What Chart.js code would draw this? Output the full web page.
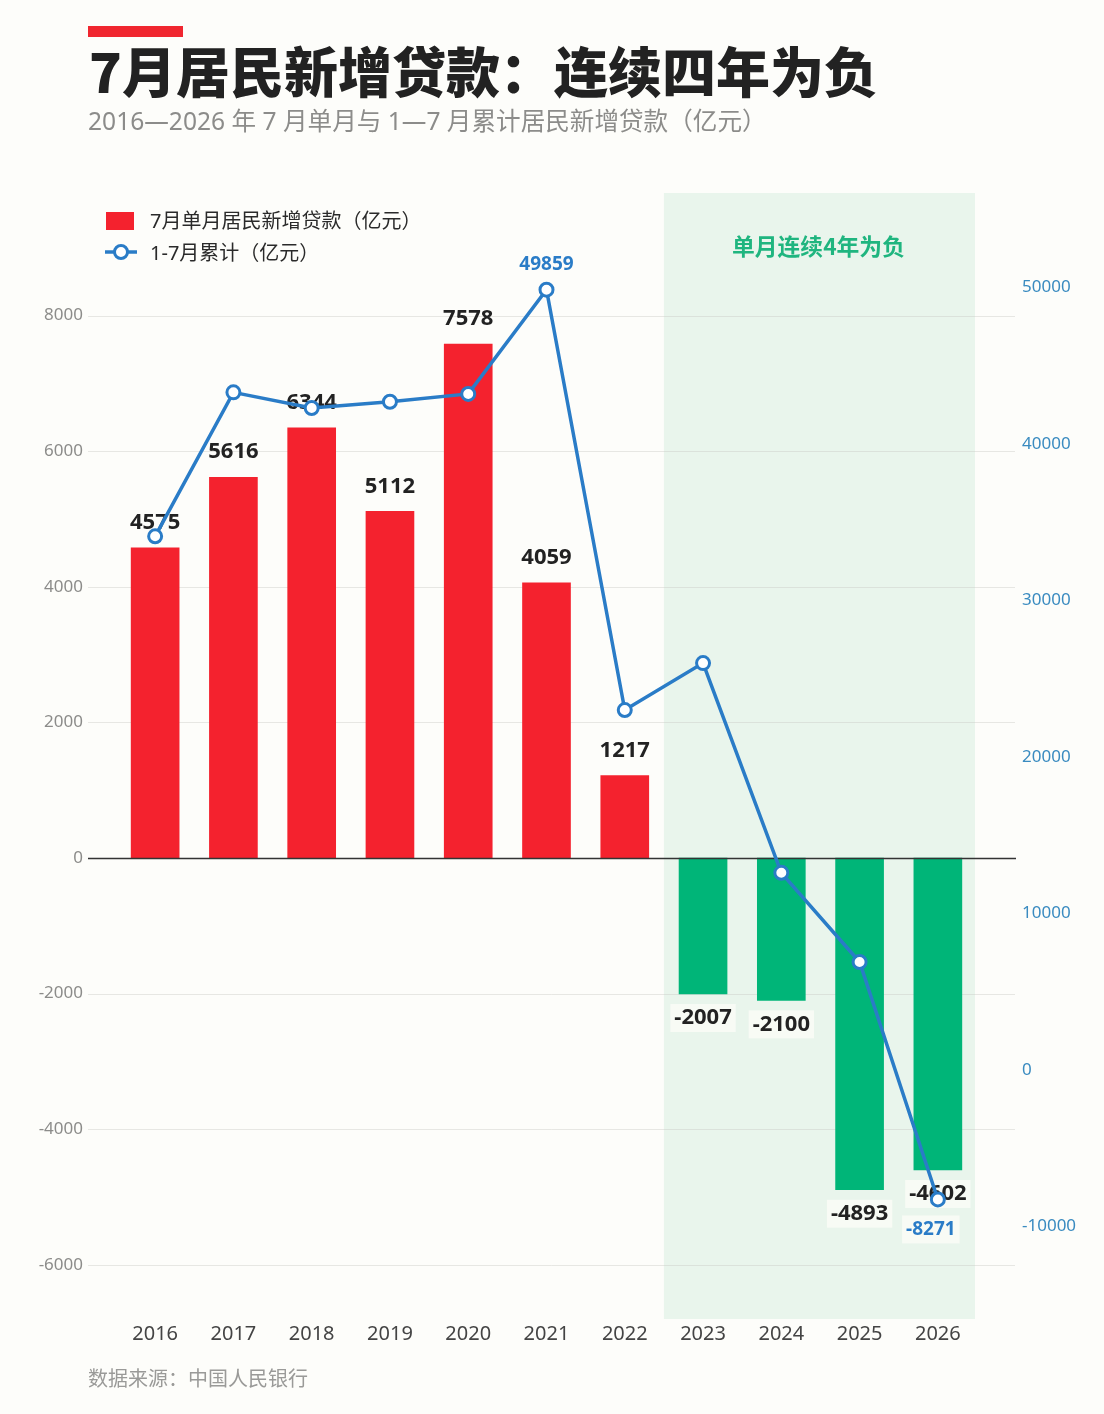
<!DOCTYPE html>
<html lang="zh">
<head>
<meta charset="utf-8">
<title>7月居民新增贷款</title>
<script src="https://cdn.jsdelivr.net/npm/chart.js@4"></script>
<style>
  html, body { margin: 0; padding: 0; background: #fdfdfa; }
  body { width: 1104px; height: 1414px; position: relative; overflow: hidden; font-family: "Noto Sans", "Noto Sans CJK SC", sans-serif; }
  canvas { position: absolute; left: 0; top: 0; }
  .abs { position: absolute; white-space: nowrap; z-index: 2; }
  #accent { left: 88px; top: 26px; width: 95px; height: 11px; background: #f0262f; }
  #title { left: 89px; top: 32px; font-family: "Noto Sans CJK SC", sans-serif; font-size: 54px; line-height: 76px; font-weight: 900; color: #222; }
  #subtitle { left: 88px; top: 103px; font-size: 24.6px; line-height: 36px; color: #8c8c8a; }
  #source { left: 88px; top: 1364px; font-size: 20px; line-height: 30px; color: #9a9a98; }
  .legend-label { left: 150px; font-size: 20px; line-height: 28px; color: #2a2a2a; }
</style>
</head>
<body>
<div id="accent" class="abs"></div>
<div id="title" class="abs">7月居民新增贷款：连续四年为负</div>
<div id="subtitle" class="abs">2016—2026 年 7 月单月与 1—7 月累计居民新增贷款（亿元）</div>

<div class="abs" style="left:106px;top:212px;width:28px;height:18px;background:#f4222e"></div>
<div id="legendBar" class="abs legend-label" style="top:207px"></div>
<svg class="abs" style="left:104px;top:242px" width="34" height="20">
  <line x1="1" y1="10" x2="33" y2="10" stroke="#2a7cc7" stroke-width="3.5"/>
  <circle cx="17" cy="10" r="6.5" fill="#fff" stroke="#2a7cc7" stroke-width="3"/>
</svg>
<div id="legendLine" class="abs legend-label" style="top:239px"></div>

<div id="source" class="abs">数据来源：中国人民银行</div>
<canvas id="chart" width="1104" height="1414"></canvas>

<script>
const years = ['2016', '2017', '2018', '2019', '2020', '2021', '2022', '2023', '2024', '2025', '2026'];
const monthly = [4575, 5616, 6344, 5112, 7578, 4059, 1217, -2007, -2100, -4893, -4602];
const cumulative = [34100, 43300, 42300, 42700, 43200, 49859, 23000, 26000, 12600, 6900, -8271];
const leftTicks = [8000, 6000, 4000, 2000, 0, -2000, -4000, -6000];
const rightTicks = [50000, 40000, 30000, 20000, 10000, 0, -10000];
const barLabel = '7月单月居民新增贷款（亿元）';
const lineLabel = '1-7月累计（亿元）';
const bandLabel = '单月连续4年为负';
const bandFrom = '2023';

document.getElementById('legendBar').textContent = barLabel;
document.getElementById('legendLine').textContent = lineLabel;

const FONT = '"Noto Sans", "Noto Sans CJK SC", sans-serif';
const RED = '#f4222e', GREEN = '#00b578', BLUE = '#2a7cc7';

function haloText(ctx, text, x, y, font, color, halo) {
    ctx.font = font;
    ctx.textAlign = 'center';
    ctx.textBaseline = 'middle';
    if (halo) {
        const w = ctx.measureText(text).width;
        ctx.fillStyle = 'rgba(253,253,250,0.7)';
        ctx.fillRect(x - w / 2 - 4, y - 14, w + 8, 28);
    }
    ctx.fillStyle = color;
    ctx.fillText(text, x, y);
}

// green band, extended grid lines and zero line go under the bars
const backdrop = {
    id: 'backdrop',
    beforeDatasetsDraw(chart) {
        const { ctx, chartArea, scales } = chart;
        const step = scales.x.getPixelForValue(1) - scales.x.getPixelForValue(0);
        const bandLeft = scales.x.getPixelForValue(years.indexOf(bandFrom)) - step / 2;
        ctx.save();
        ctx.fillStyle = '#e9f5ec';
        ctx.fillRect(bandLeft, chartArea.top, chartArea.right - bandLeft - 2, chartArea.bottom - chartArea.top);
        leftTicks.forEach(v => {
            if (v === 0) return;
            const y = Math.round(scales.y.getPixelForValue(v)) + 0.5;
            ctx.strokeStyle = 'rgba(200,200,195,0.42)';
            ctx.lineWidth = 1;
            ctx.beginPath();
            ctx.moveTo(88, y);
            ctx.lineTo(1015, y);
            ctx.stroke();
        });
        haloText(ctx, bandLabel, (bandLeft + chartArea.right) / 2 - 2, chartArea.top + 53,
            `700 22.8px "Noto Sans CJK SC", sans-serif`, '#1fb57f', false);
        ctx.restore();
    },
    // zero line and bar values sit above the bars but below the line
    beforeDatasetDraw(chart, args) {
        if (args.index !== 1) return;
        const { ctx, scales } = chart;
        ctx.save();
        const zero = Math.round(scales.y.getPixelForValue(0)) + 0.5;
        ctx.strokeStyle = '#333';
        ctx.lineWidth = 1.5;
        ctx.beginPath();
        ctx.moveTo(88, zero);
        ctx.lineTo(1016, zero);
        ctx.stroke();
        const bars = chart.getDatasetMeta(0).data;
        monthly.forEach((v, i) => {
            const y = bars[i].y + (v >= 0 ? -25 : 24);
            haloText(ctx, String(v), bars[i].x, y, `700 22px ${FONT}`, '#222', v < 0);
        });
        ctx.restore();
    },
    afterDatasetsDraw(chart) {
        const { ctx } = chart;
        const pts = chart.getDatasetMeta(1).data;
        const top = cumulative.indexOf(49859), last = cumulative.length - 1;
        ctx.save();
        haloText(ctx, String(cumulative[top]), pts[top].x, pts[top].y - 25, `700 19px ${FONT}`, BLUE, false);
        haloText(ctx, String(cumulative[last]), pts[last].x - 7, pts[last].y + 30, `700 19px ${FONT}`, BLUE, true);
        ctx.restore();
    }
};

new Chart(document.getElementById('chart'), {
    data: {
        labels: years,
        datasets: [
            {
                type: 'bar',
                label: barLabel,
                data: monthly,
                yAxisID: 'y',
                order: 2,
                barThickness: 48,
                backgroundColor: monthly.map(v => (v >= 0 ? RED : GREEN))
            },
            {
                type: 'line',
                label: lineLabel,
                data: cumulative,
                yAxisID: 'y1',
                order: 1,
                borderColor: BLUE,
                borderWidth: 3.5,
                tension: 0,
                pointRadius: 6.5,
                pointBorderWidth: 3,
                pointBackgroundColor: '#fff',
                pointBorderColor: BLUE
            }
        ]
    },
    options: {
        responsive: false,
        animation: false,
        layout: { padding: { top: 193 } },
        plugins: { legend: { display: false }, tooltip: { enabled: false } },
        scales: {
            x: {
                grid: { display: false },
                border: { display: false },
                ticks: { color: '#444', font: { family: FONT, size: 20 }, padding: -5, maxRotation: 0 },
                afterFit: s => { s.height = 95; }
            },
            y: {
                position: 'left',
                min: -6800,
                max: 9808,
                grid: { display: false, drawTicks: false },
                border: { display: false },
                ticks: { color: '#8c8c8a', font: { family: FONT, size: 17 }, padding: 33, callback: v => String(v) },
                afterBuildTicks: s => { s.ticks = leftTicks.map(value => ({ value })); },
                afterFit: s => { s.width = 116; }
            },
            y1: {
                position: 'right',
                min: -15911,
                max: 56038,
                grid: { display: false, drawTicks: false },
                border: { display: false },
                ticks: { color: '#3a8bc0', font: { family: FONT, size: 17 }, padding: 45, callback: v => String(v) },
                afterBuildTicks: s => { s.ticks = rightTicks.map(value => ({ value })); },
                afterFit: s => { s.width = 127; }
            }
        }
    },
    plugins: [backdrop]
});
</script>
</body>
</html>
